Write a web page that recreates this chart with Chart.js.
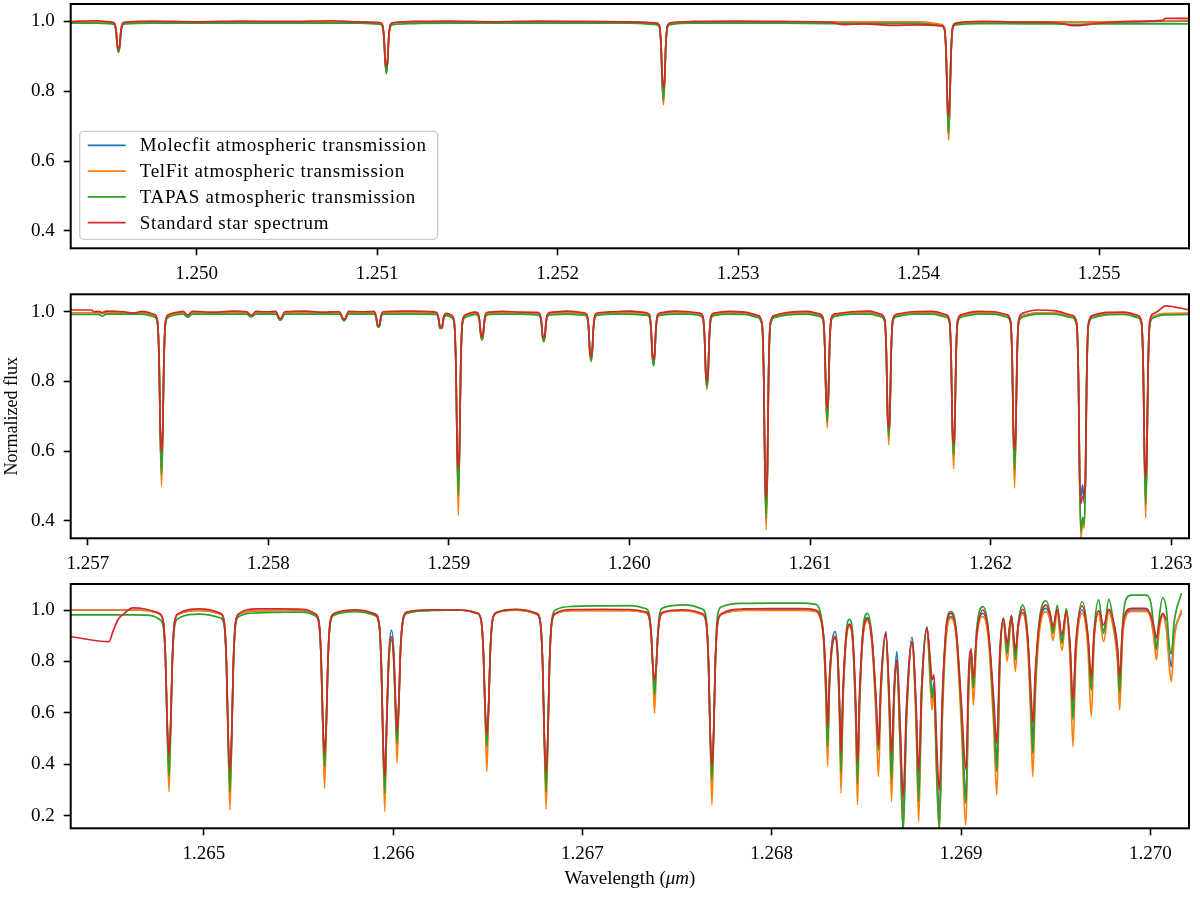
<!DOCTYPE html>
<html>
<head>
<meta charset="utf-8">
<title>Telluric transmission vs standard star</title>
<script src="https://cdn.jsdelivr.net/npm/chart.js@4.4.1/dist/chart.umd.min.js"></script>
<style>
  body { margin: 0; background: #fff; }
  #wrap { position: relative; width: 1200px; height: 897px; }
  canvas { position: absolute; left: 0; }
</style>
</head>
<body>
<div id="wrap">
  <canvas id="panel1" width="1200" height="290" style="top:0px"></canvas>
  <canvas id="panel2" width="1200" height="290" style="top:290px"></canvas>
  <canvas id="panel3" width="1200" height="317" style="top:580px"></canvas>
</div>
<script>
// series names / colours (matplotlib tab10 order)
const seriesNames = ['Molecfit atmospheric transmission', 'TelFit atmospheric transmission',
                     'TAPAS atmospheric transmission', 'Standard star spectrum'];
const seriesColors = ['#1f77b4', '#ff7f0e', '#2ca02c', '#d62728'];

// tick values for each panel
const p1XTicks = [1.250, 1.251, 1.252, 1.253, 1.254, 1.255];
const p2XTicks = [1.257, 1.258, 1.259, 1.260, 1.261, 1.262, 1.263];
const p3XTicks = [1.265, 1.266, 1.267, 1.268, 1.269, 1.270];
const p12YTicks = [0.4, 0.6, 0.8, 1.0];
const p3YTicks = [0.2, 0.4, 0.6, 0.8, 1.0];

// ---------- panel 1 : 1.2493 - 1.2555 um ----------
const p1Wave = [
  1.24930, 1.24945,
  1.249527, 1.249544, 1.249554, 1.249560, 1.249567, 1.249574, 1.249580, 1.249590, 1.249607,
  1.24975, 1.25000, 1.25025, 1.25050, 1.25075, 1.25090,
  1.251011, 1.251028, 1.251038, 1.251044, 1.251051, 1.251058, 1.251064, 1.251074, 1.251091,
  1.25120, 1.25140, 1.25165, 1.25190, 1.25215, 1.25240,
  1.252546, 1.252563, 1.252573, 1.252579, 1.252586, 1.252593, 1.252599, 1.252609, 1.252626,
  1.25275, 1.25300, 1.25325, 1.25350, 1.25359, 1.25370, 1.25385, 1.25400,
  1.254126, 1.254143, 1.254153, 1.254159, 1.254166, 1.254173, 1.254179, 1.254189, 1.254206,
  1.25435, 1.25460, 1.25475, 1.25487, 1.25500, 1.25520, 1.25535, 1.25537, 1.25550
];
const p1Molecfit = [
  0.998, 0.998,
  0.996, 0.993, 0.970, 0.932, 0.915, 0.932, 0.970, 0.993, 0.996,
  0.998, 0.998, 0.998, 0.998, 0.998, 0.998,
  0.995, 0.990, 0.952, 0.890, 0.855, 0.890, 0.952, 0.990, 0.995,
  0.998, 0.998, 0.998, 0.998, 0.998, 0.998,
  0.994, 0.987, 0.929, 0.838, 0.770, 0.838, 0.929, 0.987, 0.994,
  0.998, 0.998, 0.998, 0.998, 0.998, 0.998, 0.998, 0.998,
  0.990, 0.980, 0.899, 0.775, 0.672, 0.775, 0.899, 0.984, 0.994,
  0.998, 0.998, 0.998, 0.998, 0.998, 0.999, 1.000, 1.000, 1.001
];
const p1TelFit = [
  0.999, 0.999,
  0.997, 0.994, 0.971, 0.933, 0.914, 0.933, 0.971, 0.994, 0.997,
  0.999, 0.999, 0.999, 0.999, 0.999, 0.999,
  0.996, 0.991, 0.953, 0.891, 0.851, 0.891, 0.953, 0.991, 0.996,
  0.999, 0.999, 0.999, 0.999, 0.999, 0.999,
  0.995, 0.988, 0.930, 0.839, 0.761, 0.839, 0.930, 0.988, 0.995,
  0.999, 0.999, 0.999, 0.999, 0.999, 0.999, 0.999, 0.999,
  0.991, 0.981, 0.900, 0.776, 0.659, 0.776, 0.900, 0.985, 0.995,
  0.999, 0.999, 0.999, 0.999, 0.999, 1.000, 1.002, 1.002, 1.003
];
const p1Tapas = [
  0.995, 0.995,
  0.993, 0.990, 0.967, 0.929, 0.911, 0.929, 0.967, 0.990, 0.993,
  0.995, 0.995, 0.995, 0.995, 0.995, 0.995,
  0.992, 0.987, 0.949, 0.887, 0.850, 0.887, 0.949, 0.986, 0.991,
  0.994, 0.995, 0.995, 0.995, 0.995, 0.995,
  0.991, 0.984, 0.926, 0.835, 0.776, 0.835, 0.926, 0.984, 0.991,
  0.995, 0.995, 0.995, 0.994, 0.994, 0.994, 0.994, 0.994,
  0.987, 0.977, 0.896, 0.772, 0.682, 0.772, 0.896, 0.981, 0.990,
  0.994, 0.993, 0.993, 0.992, 0.993, 0.993, 0.993, 0.993, 0.993
];
const p1Star = [
  1.000, 1.002,
  0.998, 0.995, 0.972, 0.934, 0.921, 0.934, 0.972, 0.995, 0.998,
  1.001, 0.999, 1.001, 1.000, 1.002, 0.999,
  0.997, 0.992, 0.954, 0.892, 0.871, 0.892, 0.954, 0.992, 0.997,
  1.000, 1.001, 0.999, 1.001, 1.000, 0.999,
  0.996, 0.989, 0.931, 0.840, 0.809, 0.840, 0.931, 0.989, 0.996,
  1.000, 1.001, 1.000, 0.998, 0.991, 0.993, 0.989, 0.990,
  0.988, 0.980, 0.900, 0.780, 0.728, 0.780, 0.900, 0.984, 0.995,
  1.000, 0.998, 0.997, 0.988, 0.995, 1.000, 1.003, 1.009, 1.009
];

// ---------- panel 2 : 1.2569 - 1.2631 um ----------
const p2Wave = [
  1.256905, 1.257020, 1.257035, 1.257055, 1.257073, 1.257080, 1.257087, 1.257105, 1.257200, 1.257250, 1.257300,
  1.257368, 1.257385, 1.257395, 1.257401, 1.257408, 1.257415, 1.257421, 1.257431, 1.257448, 1.257500,
  1.257528, 1.257546, 1.257553, 1.257560, 1.257578, 1.257700, 1.257800,
  1.257880, 1.257898, 1.257905, 1.257912, 1.257930, 1.257990,
  1.258041, 1.258059, 1.258066, 1.258073, 1.258091, 1.258200, 1.258300,
  1.258394, 1.258412, 1.258419, 1.258426, 1.258444, 1.258520,
  1.258585, 1.258597, 1.258603, 1.258610, 1.258617, 1.258623, 1.258635, 1.258750, 1.258850,
  1.258931, 1.258943, 1.258949, 1.258956, 1.258963, 1.258969, 1.258985,
  1.259012, 1.259029, 1.259039, 1.259045, 1.259052, 1.259059, 1.259065, 1.259075, 1.259092, 1.259130,
  1.259143, 1.259160, 1.259170, 1.259176, 1.259183, 1.259190, 1.259196, 1.259206, 1.259223, 1.259300, 1.259400,
  1.259485, 1.259502, 1.259512, 1.259518, 1.259525, 1.259532, 1.259538, 1.259548, 1.259565, 1.259650,
  1.259747, 1.259764, 1.259774, 1.259780, 1.259787, 1.259794, 1.259800, 1.259810, 1.259827, 1.259900, 1.260000,
  1.260093, 1.260110, 1.260120, 1.260126, 1.260133, 1.260140, 1.260146, 1.260156, 1.260173, 1.260250, 1.260330,
  1.260389, 1.260406, 1.260416, 1.260422, 1.260429, 1.260436, 1.260442, 1.260452, 1.260469, 1.260550, 1.260640,
  1.260707, 1.260734, 1.260744, 1.260750, 1.260757, 1.260764, 1.260770, 1.260780, 1.260807, 1.260880, 1.260980,
  1.261050, 1.261072, 1.261082, 1.261088, 1.261095, 1.261102, 1.261108, 1.261118, 1.261140, 1.261230, 1.261330,
  1.261391, 1.261413, 1.261423, 1.261429, 1.261436, 1.261443, 1.261449, 1.261459, 1.261481, 1.261570, 1.261680,
  1.261750, 1.261772, 1.261782, 1.261788, 1.261795, 1.261802, 1.261808, 1.261818, 1.261840, 1.261930, 1.262020,
  1.262088, 1.262110, 1.262120, 1.262126, 1.262133, 1.262140, 1.262146, 1.262156, 1.262178, 1.262260, 1.262350,
  1.262450, 1.262477, 1.262487, 1.262493, 1.262500, 1.262510, 1.262519, 1.262526, 1.262532, 1.262542, 1.262569, 1.262640, 1.262740,
  1.262814, 1.262836, 1.262846, 1.262852, 1.262859, 1.262866, 1.262872, 1.262882, 1.262904, 1.262930, 1.262968, 1.263099
];
const p2Molecfit = [
  0.997, 0.997, 0.997, 0.997, 0.996, 0.995, 0.996, 0.997, 0.997, 0.997, 0.997,
  0.989, 0.973, 0.853, 0.660, 0.540, 0.660, 0.853, 0.973, 0.989, 0.996,
  0.997, 0.990, 0.988, 0.990, 0.997, 0.997, 0.997,
  0.997, 0.990, 0.989, 0.990, 0.997, 0.997,
  0.997, 0.981, 0.978, 0.981, 0.997, 0.997, 0.997,
  0.997, 0.980, 0.976, 0.980, 0.997, 0.997,
  0.997, 0.985, 0.963, 0.957, 0.963, 0.985, 0.997, 0.997, 0.997,
  0.996, 0.979, 0.957, 0.953, 0.957, 0.979, 0.993,
  0.988, 0.970, 0.835, 0.620, 0.490, 0.620, 0.835, 0.970, 0.988, 0.995,
  0.996, 0.993, 0.971, 0.937, 0.922, 0.937, 0.971, 0.993, 0.996, 0.997, 0.997,
  0.995, 0.992, 0.970, 0.933, 0.918, 0.933, 0.970, 0.992, 0.995, 0.997,
  0.994, 0.989, 0.951, 0.889, 0.862, 0.889, 0.951, 0.989, 0.994, 0.997, 0.997,
  0.994, 0.989, 0.947, 0.881, 0.848, 0.881, 0.947, 0.989, 0.994, 0.997, 0.997,
  0.993, 0.985, 0.925, 0.829, 0.780, 0.829, 0.925, 0.985, 0.993, 0.997, 0.996,
  0.988, 0.965, 0.804, 0.548, 0.420, 0.548, 0.804, 0.965, 0.988, 0.995, 0.997,
  0.991, 0.980, 0.897, 0.764, 0.690, 0.764, 0.897, 0.980, 0.991, 0.997, 0.997,
  0.990, 0.977, 0.877, 0.716, 0.650, 0.716, 0.877, 0.977, 0.990, 0.997, 0.997,
  0.989, 0.974, 0.859, 0.676, 0.580, 0.676, 0.859, 0.974, 0.989, 0.997, 0.997,
  0.989, 0.973, 0.854, 0.664, 0.540, 0.664, 0.854, 0.973, 0.989, 0.997, 0.997,
  0.987, 0.964, 0.797, 0.537, 0.470, 0.503, 0.450, 0.537, 0.797, 0.964, 0.987, 0.995, 0.996,
  0.987, 0.968, 0.826, 0.597, 0.460, 0.597, 0.826, 0.968, 0.987, 0.992, 0.994, 0.995
];
const p2TelFit = [
  0.997, 0.997, 0.997, 0.997, 0.996, 0.995, 0.996, 0.997, 0.997, 0.997, 0.997,
  0.989, 0.973, 0.853, 0.660, 0.499, 0.660, 0.853, 0.973, 0.989, 0.996,
  0.997, 0.990, 0.988, 0.990, 0.997, 0.997, 0.997,
  0.997, 0.990, 0.988, 0.990, 0.997, 0.997,
  0.997, 0.981, 0.978, 0.981, 0.997, 0.997, 0.997,
  0.997, 0.980, 0.976, 0.980, 0.997, 0.997,
  0.997, 0.985, 0.963, 0.957, 0.963, 0.985, 0.997, 0.997, 0.997,
  0.996, 0.979, 0.957, 0.952, 0.957, 0.979, 0.993,
  0.988, 0.970, 0.835, 0.620, 0.416, 0.620, 0.835, 0.970, 0.988, 0.995,
  0.996, 0.993, 0.971, 0.937, 0.919, 0.937, 0.971, 0.993, 0.996, 0.997, 0.997,
  0.995, 0.992, 0.970, 0.933, 0.914, 0.933, 0.970, 0.992, 0.995, 0.997,
  0.994, 0.989, 0.951, 0.889, 0.857, 0.889, 0.951, 0.989, 0.994, 0.997, 0.997,
  0.994, 0.989, 0.947, 0.881, 0.848, 0.881, 0.947, 0.989, 0.994, 0.997, 0.997,
  0.993, 0.985, 0.925, 0.829, 0.776, 0.829, 0.925, 0.985, 0.993, 0.997, 0.996,
  0.988, 0.965, 0.804, 0.548, 0.374, 0.548, 0.804, 0.965, 0.988, 0.995, 0.997,
  0.991, 0.980, 0.897, 0.764, 0.666, 0.764, 0.897, 0.980, 0.991, 0.997, 0.997,
  0.990, 0.977, 0.877, 0.716, 0.618, 0.716, 0.877, 0.977, 0.990, 0.997, 0.997,
  0.989, 0.974, 0.859, 0.676, 0.549, 0.676, 0.859, 0.974, 0.989, 0.997, 0.997,
  0.989, 0.973, 0.854, 0.664, 0.494, 0.664, 0.854, 0.973, 0.989, 0.997, 0.997,
  0.987, 0.964, 0.797, 0.537, 0.350, 0.400, 0.379, 0.537, 0.797, 0.964, 0.987, 0.995, 0.996,
  0.987, 0.968, 0.826, 0.597, 0.408, 0.597, 0.826, 0.968, 0.987, 0.992, 0.995, 0.995
];
const p2Tapas = [
  0.992, 0.992, 0.992, 0.992, 0.989, 0.987, 0.989, 0.993, 0.993, 0.993, 0.993,
  0.985, 0.969, 0.849, 0.656, 0.532, 0.656, 0.849, 0.969, 0.985, 0.992,
  0.993, 0.986, 0.984, 0.986, 0.993, 0.993, 0.993,
  0.993, 0.986, 0.985, 0.986, 0.993, 0.993,
  0.993, 0.978, 0.976, 0.978, 0.993, 0.993, 0.993,
  0.993, 0.977, 0.974, 0.977, 0.993, 0.993,
  0.993, 0.981, 0.960, 0.955, 0.960, 0.981, 0.993, 0.993, 0.993,
  0.992, 0.975, 0.953, 0.952, 0.953, 0.975, 0.989,
  0.984, 0.966, 0.831, 0.616, 0.473, 0.616, 0.831, 0.966, 0.984, 0.991,
  0.992, 0.989, 0.967, 0.933, 0.919, 0.933, 0.967, 0.989, 0.992, 0.993, 0.993,
  0.991, 0.988, 0.966, 0.929, 0.914, 0.929, 0.966, 0.988, 0.991, 0.993,
  0.990, 0.985, 0.947, 0.885, 0.859, 0.885, 0.947, 0.985, 0.990, 0.993, 0.993,
  0.990, 0.985, 0.943, 0.877, 0.844, 0.877, 0.943, 0.985, 0.990, 0.993, 0.993,
  0.989, 0.981, 0.921, 0.825, 0.785, 0.825, 0.921, 0.981, 0.989, 0.993, 0.992,
  0.984, 0.961, 0.800, 0.544, 0.408, 0.544, 0.800, 0.961, 0.984, 0.991, 0.993,
  0.987, 0.976, 0.893, 0.760, 0.685, 0.760, 0.893, 0.976, 0.987, 0.993, 0.993,
  0.986, 0.973, 0.873, 0.712, 0.642, 0.712, 0.873, 0.973, 0.986, 0.993, 0.993,
  0.985, 0.970, 0.855, 0.672, 0.589, 0.672, 0.855, 0.970, 0.985, 0.993, 0.993,
  0.985, 0.969, 0.850, 0.660, 0.546, 0.660, 0.850, 0.969, 0.985, 0.993, 0.993,
  0.983, 0.960, 0.793, 0.533, 0.370, 0.410, 0.389, 0.533, 0.793, 0.960, 0.983, 0.991, 0.992,
  0.983, 0.964, 0.822, 0.593, 0.446, 0.593, 0.822, 0.964, 0.983, 0.988, 0.991, 0.992
];
const p2Star = [
  1.005, 1.005, 1.000, 1.001, 0.999, 0.997, 0.999, 1.002, 1.000, 0.996, 1.001,
  0.992, 0.976, 0.856, 0.663, 0.599, 0.663, 0.856, 0.976, 0.992, 0.999,
  1.001, 0.992, 0.990, 0.992, 1.001, 0.999, 1.002,
  1.000, 0.991, 0.990, 0.991, 1.001, 1.000,
  1.001, 0.983, 0.980, 0.983, 1.000, 1.002, 0.999,
  1.000, 0.981, 0.978, 0.981, 1.001, 1.000,
  1.001, 0.986, 0.966, 0.960, 0.966, 0.986, 1.000, 1.002, 1.001,
  0.998, 0.981, 0.960, 0.955, 0.960, 0.981, 0.995,
  0.991, 0.973, 0.838, 0.623, 0.551, 0.623, 0.838, 0.973, 0.991, 0.998,
  0.999, 0.996, 0.974, 0.940, 0.928, 0.940, 0.974, 0.996, 0.999, 1.001, 0.999,
  0.998, 0.995, 0.973, 0.936, 0.924, 0.936, 0.973, 0.995, 0.998, 1.002,
  0.997, 0.992, 0.954, 0.892, 0.871, 0.892, 0.954, 0.992, 0.997, 1.000, 1.002,
  0.997, 0.992, 0.950, 0.884, 0.862, 0.884, 0.950, 0.992, 0.997, 1.002, 1.000,
  0.996, 0.988, 0.928, 0.832, 0.800, 0.832, 0.928, 0.988, 0.996, 1.001, 0.999,
  0.990, 0.968, 0.807, 0.551, 0.465, 0.551, 0.807, 0.968, 0.990, 0.998, 1.001,
  0.994, 0.983, 0.900, 0.767, 0.723, 0.767, 0.900, 0.983, 0.994, 1.000, 1.002,
  0.993, 0.980, 0.880, 0.719, 0.666, 0.719, 0.880, 0.980, 0.993, 1.000, 1.001,
  0.992, 0.977, 0.862, 0.679, 0.618, 0.679, 0.862, 0.977, 0.992, 1.001, 1.000,
  0.992, 0.976, 0.857, 0.667, 0.604, 0.667, 0.857, 0.978, 0.996, 1.005, 1.003,
  0.990, 0.967, 0.800, 0.540, 0.450, 0.470, 0.475, 0.540, 0.800, 0.967, 0.990, 0.998, 0.999,
  0.990, 0.971, 0.829, 0.600, 0.524, 0.600, 0.829, 0.975, 0.995, 1.003, 1.017, 1.005
];

// ---------- panel 3 : 1.2643 - 1.2702 um ----------
const p3Wave = [
  1.264298, 1.264499, 1.264520, 1.264546, 1.264581, 1.264625, 1.264696, 1.264740,
  1.264766, 1.264786, 1.264798, 1.264806, 1.264816, 1.264826, 1.264834, 1.264846, 1.264866, 1.264977,
  1.265088, 1.265108, 1.265120, 1.265128, 1.265138, 1.265148, 1.265156, 1.265168, 1.265188, 1.265280, 1.265400, 1.265520,
  1.265588, 1.265608, 1.265620, 1.265628, 1.265638, 1.265648, 1.265656, 1.265668, 1.265688, 1.265800,
  1.265906, 1.265926, 1.265938, 1.265946, 1.265956, 1.265966, 1.265977, 1.265991, 1.266004, 1.266013,
  1.266021, 1.266030, 1.266040, 1.266052, 1.266072, 1.266200, 1.266350,
  1.266445, 1.266465, 1.266477, 1.266485, 1.266495, 1.266505, 1.266513, 1.266525, 1.266545, 1.266650,
  1.266758, 1.266778, 1.266790, 1.266798, 1.266808, 1.266818, 1.266826, 1.266838, 1.266858, 1.266950, 1.267100, 1.267250,
  1.267331, 1.267351, 1.267363, 1.267371, 1.267381, 1.267391, 1.267399, 1.267411, 1.267431, 1.267530,
  1.267634, 1.267654, 1.267666, 1.267674, 1.267684, 1.267694, 1.267702, 1.267714, 1.267734, 1.267850, 1.268000, 1.268150, 1.268230,
  1.268255, 1.268275, 1.268287, 1.268295, 1.268305, 1.268318, 1.268334, 1.268348, 1.268358, 1.268366,
  1.268376, 1.268392, 1.268410, 1.268428, 1.268443, 1.268453, 1.268464, 1.268484, 1.268506, 1.268530,
  1.268550, 1.268564, 1.268576, 1.268603, 1.268620, 1.268633, 1.268647, 1.268661, 1.268678, 1.268694,
  1.268712, 1.268741, 1.268762, 1.268776, 1.268792, 1.268820, 1.268838, 1.268847, 1.268857, 1.268870,
  1.268885, 1.268903, 1.268925, 1.268947, 1.268975, 1.269000, 1.269026, 1.269040, 1.269053, 1.269065,
  1.269082, 1.269115, 1.269145, 1.269172, 1.269189, 1.269205, 1.269224, 1.269243, 1.269266, 1.269287,
  1.269302, 1.269326, 1.269352, 1.269368, 1.269379, 1.269392, 1.269412, 1.269450, 1.269472, 1.269485,
  1.269508, 1.269533, 1.269556, 1.269576, 1.269591, 1.269606, 1.269640, 1.269670, 1.269688, 1.269703,
  1.269727, 1.269753, 1.269780, 1.269811, 1.269826, 1.269838, 1.269852, 1.269873, 1.269900, 1.269975,
  1.270002, 1.270020, 1.270032, 1.270045, 1.270065, 1.270085, 1.270100, 1.270111, 1.270125, 1.270164
];
const p3Molecfit = [
  1.000, 1.000, 1.000, 1.000, 1.000, 1.000, 0.998, 0.992,
  0.984, 0.953, 0.807, 0.576, 0.390, 0.576, 0.807, 0.953, 0.984, 0.998,
  0.985, 0.951, 0.786, 0.528, 0.330, 0.528, 0.786, 0.951, 0.985, 0.997, 0.998, 0.998,
  0.984, 0.953, 0.809, 0.580, 0.420, 0.580, 0.809, 0.953, 0.984, 0.998,
  0.982, 0.946, 0.778, 0.513, 0.320, 0.560, 0.820, 0.922, 0.830, 0.630,
  0.510, 0.640, 0.860, 0.960, 0.990, 0.999, 1.000,
  0.987, 0.960, 0.834, 0.635, 0.490, 0.635, 0.834, 0.960, 0.988, 1.000,
  0.985, 0.950, 0.785, 0.524, 0.330, 0.524, 0.785, 0.950, 0.985, 0.998, 0.998, 0.998,
  0.991, 0.976, 0.906, 0.794, 0.690, 0.794, 0.906, 0.976, 0.991, 0.998,
  0.983, 0.949, 0.791, 0.542, 0.370, 0.542, 0.791, 0.949, 0.983, 0.999, 1.000, 1.000, 0.996,
  0.975, 0.880, 0.680, 0.500, 0.720, 0.870, 0.916, 0.840, 0.620, 0.410,
  0.660, 0.880, 0.945, 0.880, 0.620, 0.370, 0.650, 0.920, 0.970, 0.880,
  0.650, 0.460, 0.700, 0.916, 0.660, 0.400, 0.700, 0.838, 0.550, 0.210,
  0.620, 0.894, 0.620, 0.280, 0.700, 0.935, 0.760, 0.660, 0.720, 0.450,
  0.200, 0.680, 0.930, 0.974, 0.900, 0.620, 0.280, 0.720, 0.850, 0.700,
  0.900, 0.987, 0.900, 0.620, 0.420, 0.820, 0.968, 0.850, 0.977, 0.820,
  0.940, 0.990, 0.880, 0.650, 0.500, 0.720, 0.930, 1.006, 0.970, 0.920,
  1.000, 0.880, 0.997, 0.840, 0.600, 0.850, 1.000, 0.880, 0.700, 0.900,
  0.997, 0.920, 1.000, 0.930, 0.840, 0.680, 0.900, 0.985, 1.000, 1.000,
  0.970, 0.900, 0.851, 0.930, 0.985, 0.930, 0.820, 0.780, 0.900, 0.990
];
const p3TelFit = [
  1.000, 1.000, 1.000, 1.000, 1.000, 1.000, 0.998, 0.992,
  0.984, 0.953, 0.807, 0.576, 0.294, 0.576, 0.807, 0.953, 0.984, 0.998,
  0.985, 0.951, 0.786, 0.528, 0.223, 0.528, 0.786, 0.951, 0.985, 0.997, 0.998, 0.998,
  0.984, 0.953, 0.809, 0.580, 0.307, 0.580, 0.809, 0.953, 0.984, 0.998,
  0.982, 0.946, 0.778, 0.513, 0.217, 0.555, 0.800, 0.890, 0.800, 0.600,
  0.405, 0.630, 0.860, 0.960, 0.990, 0.999, 1.000,
  0.987, 0.960, 0.834, 0.635, 0.372, 0.635, 0.834, 0.960, 0.988, 0.999,
  0.985, 0.950, 0.785, 0.524, 0.226, 0.524, 0.785, 0.950, 0.985, 0.997, 0.997, 0.997,
  0.990, 0.975, 0.905, 0.793, 0.599, 0.793, 0.905, 0.975, 0.990, 0.997,
  0.982, 0.948, 0.790, 0.541, 0.243, 0.541, 0.790, 0.948, 0.982, 0.998, 0.998, 0.998, 0.994,
  0.970, 0.870, 0.630, 0.392, 0.700, 0.850, 0.900, 0.820, 0.580, 0.288,
  0.630, 0.870, 0.935, 0.870, 0.580, 0.243, 0.620, 0.910, 0.960, 0.860,
  0.600, 0.353, 0.660, 0.900, 0.620, 0.256, 0.660, 0.800, 0.480, 0.140,
  0.570, 0.870, 0.570, 0.178, 0.650, 0.925, 0.700, 0.612, 0.690, 0.380,
  0.140, 0.620, 0.920, 0.968, 0.890, 0.570, 0.165, 0.680, 0.800, 0.631,
  0.880, 0.974, 0.880, 0.550, 0.282, 0.780, 0.960, 0.800, 0.970, 0.761,
  0.930, 0.984, 0.860, 0.580, 0.353, 0.660, 0.900, 0.994, 0.950, 0.881,
  0.990, 0.842, 0.985, 0.800, 0.469, 0.800, 0.987, 0.850, 0.586, 0.880,
  0.987, 0.877, 0.990, 0.900, 0.800, 0.612, 0.880, 0.980, 0.995, 0.995,
  0.970, 0.880, 0.806, 0.910, 0.977, 0.920, 0.780, 0.722, 0.880, 1.000
];
const p3Tapas = [
  0.981, 0.981, 0.981, 0.981, 0.981, 0.981, 0.980, 0.975,
  0.963, 0.935, 0.795, 0.566, 0.353, 0.566, 0.795, 0.937, 0.967, 0.984,
  0.969, 0.937, 0.776, 0.518, 0.294, 0.518, 0.776, 0.942, 0.976, 0.989, 0.991, 0.992,
  0.978, 0.947, 0.803, 0.574, 0.392, 0.574, 0.805, 0.949, 0.980, 0.994,
  0.978, 0.942, 0.774, 0.509, 0.288, 0.550, 0.795, 0.883, 0.790, 0.590,
  0.482, 0.625, 0.855, 0.955, 0.987, 0.998, 1.000,
  0.987, 0.960, 0.834, 0.635, 0.469, 0.635, 0.834, 0.962, 0.990, 1.003,
  0.987, 0.952, 0.787, 0.526, 0.294, 0.526, 0.790, 0.962, 1.000, 1.014, 1.016, 1.017,
  1.006, 0.990, 0.915, 0.800, 0.670, 0.800, 0.915, 0.995, 1.010, 1.020,
  1.003, 0.965, 0.800, 0.545, 0.340, 0.545, 0.805, 0.980, 1.012, 1.026, 1.027, 1.027, 1.022,
  0.995, 0.880, 0.660, 0.469, 0.710, 0.850, 0.890, 0.820, 0.600, 0.366,
  0.650, 0.900, 0.964, 0.900, 0.610, 0.333, 0.650, 0.940, 0.987, 0.890,
  0.640, 0.456, 0.680, 0.903, 0.640, 0.340, 0.670, 0.786, 0.480, 0.140,
  0.580, 0.877, 0.600, 0.256, 0.680, 0.929, 0.740, 0.657, 0.700, 0.400,
  0.155, 0.660, 0.960, 0.994, 0.920, 0.620, 0.249, 0.700, 0.819, 0.696,
  0.920, 1.013, 0.920, 0.600, 0.372, 0.800, 0.968, 0.832, 0.977, 0.806,
  0.950, 1.019, 0.900, 0.630, 0.443, 0.700, 0.950, 1.036, 0.980, 0.909,
  1.019, 0.871, 1.006, 0.850, 0.573, 0.850, 1.032, 0.900, 0.689, 0.920,
  1.039, 0.909, 1.041, 0.920, 0.840, 0.680, 0.930, 1.045, 1.058, 1.058,
  1.030, 0.920, 0.845, 0.960, 1.047, 1.000, 0.860, 0.830, 0.950, 1.065
];
const p3Star = [
  0.896, 0.877, 0.916, 0.961, 0.987, 1.008, 1.003, 0.994,
  0.986, 0.955, 0.809, 0.578, 0.437, 0.578, 0.809, 0.955, 0.986, 1.004,
  0.987, 0.953, 0.788, 0.530, 0.372, 0.530, 0.788, 0.953, 0.987, 1.004, 1.004, 1.003,
  0.986, 0.955, 0.811, 0.582, 0.443, 0.582, 0.811, 0.955, 0.986, 1.001,
  0.984, 0.948, 0.780, 0.515, 0.353, 0.560, 0.810, 0.896, 0.810, 0.640,
  0.528, 0.640, 0.865, 0.962, 0.992, 1.001, 1.000,
  0.988, 0.961, 0.835, 0.636, 0.515, 0.636, 0.835, 0.961, 0.989, 1.002,
  0.986, 0.951, 0.786, 0.525, 0.366, 0.525, 0.786, 0.951, 0.987, 1.002, 1.003, 1.002,
  0.993, 0.978, 0.908, 0.796, 0.728, 0.796, 0.908, 0.978, 0.993, 1.001,
  0.985, 0.951, 0.793, 0.544, 0.392, 0.544, 0.793, 0.951, 0.985, 1.004, 1.005, 1.005, 1.000,
  0.978, 0.890, 0.720, 0.547, 0.740, 0.860, 0.896, 0.830, 0.650, 0.443,
  0.680, 0.890, 0.942, 0.890, 0.660, 0.405, 0.680, 0.920, 0.964, 0.880,
  0.670, 0.469, 0.710, 0.909, 0.680, 0.443, 0.700, 0.806, 0.550, 0.275,
  0.620, 0.877, 0.640, 0.370, 0.700, 0.929, 0.800, 0.728, 0.748, 0.500,
  0.300, 0.700, 0.950, 0.987, 0.910, 0.660, 0.379, 0.760, 0.845, 0.735,
  0.900, 1.000, 0.910, 0.660, 0.482, 0.840, 0.968, 0.870, 0.977, 0.845,
  0.940, 1.003, 0.890, 0.700, 0.560, 0.760, 0.940, 1.019, 0.980, 0.935,
  1.003, 0.903, 0.994, 0.860, 0.650, 0.870, 1.016, 0.900, 0.741, 0.910,
  0.997, 0.942, 1.003, 0.935, 0.860, 0.740, 0.920, 0.995, 1.006, 1.006,
  0.980, 0.930, 0.891, 0.940, 0.987, 0.960, null, null, null, null
];

const serif = '"Liberation Serif", "Times New Roman", serif';
Chart.defaults.font.family = serif;
Chart.defaults.font.size = 19;
Chart.defaults.color = '#000';

// black box round the plot area (matplotlib spines)
const frame = {
  id: 'frame',
  afterDatasetsDraw(chart) {
    const {ctx, chartArea: a} = chart;
    ctx.save();
    ctx.strokeStyle = '#000';
    ctx.lineWidth = 2;
    ctx.strokeRect(a.left, a.top, a.right - a.left, a.bottom - a.top);
    ctx.restore();
  }
};

// legend inside the lower-left corner of the first panel
const legendBox = {
  id: 'legendBox',
  afterDatasetsDraw(chart) {
    const {ctx, chartArea: a} = chart;
    const w = 358, h = 108;
    const x0 = a.left + 9, y0 = a.bottom - 9 - h;
    ctx.save();
    ctx.fillStyle = 'rgba(255,255,255,0.85)';
    ctx.strokeStyle = '#cccccc';
    ctx.lineWidth = 1.3;
    ctx.beginPath();
    ctx.roundRect(x0, y0, w, h, 4);
    ctx.fill();
    ctx.stroke();
    chart.data.datasets.forEach((ds, i) => {
      const y = y0 + 14 + i * 25.8;
      ctx.strokeStyle = ds.borderColor;
      ctx.lineWidth = 1.8;
      ctx.beginPath();
      ctx.moveTo(x0 + 8, y);
      ctx.lineTo(x0 + 46, y);
      ctx.stroke();
      ctx.fillStyle = '#000';
      ctx.font = '19px ' + serif;
      ctx.letterSpacing = '0.7px';     // computer modern runs a bit wider than times
      ctx.textBaseline = 'middle';
      ctx.fillText(ds.label, x0 + 60, y + 1);
    });
    ctx.restore();
  }
};

// shared y label, centred on the middle panel
const yTitle = {
  id: 'yTitle',
  afterDraw(chart) {
    const {ctx, chartArea: a} = chart;
    ctx.save();
    ctx.translate(12, (a.top + a.bottom) / 2);
    ctx.rotate(-Math.PI / 2);
    ctx.font = '18px ' + serif;
    ctx.fillStyle = '#000';
    ctx.textAlign = 'center';
    ctx.textBaseline = 'middle';
    ctx.fillText('Normalized flux', 0, 0);
    ctx.restore();
  }
};

// x label with italic mu m, under the last panel
const xTitle = {
  id: 'xTitle',
  afterDraw(chart) {
    const {ctx, chartArea: a} = chart;
    const parts = [['Wavelength (', ''], ['\u03bcm', 'italic '], [')', '']];
    ctx.save();
    ctx.fillStyle = '#000';
    ctx.textBaseline = 'alphabetic';
    let total = 0;
    parts.forEach(p => { ctx.font = p[1] + '19px ' + serif; total += ctx.measureText(p[0]).width; });
    let x = (a.left + a.right) / 2 - total / 2;
    parts.forEach(p => {
      ctx.font = p[1] + '19px ' + serif;
      ctx.fillText(p[0], x, a.bottom + 56);
      x += ctx.measureText(p[0]).width;
    });
    ctx.restore();
  }
};

function makeDatasets(wave, series) {
  return series.map((vals, k) => ({
    label: seriesNames[k],
    data: wave.map((w, i) => ({x: w, y: vals[i]})),
    borderColor: seriesColors[k],
    backgroundColor: seriesColors[k],
    borderWidth: 1.7,
    pointRadius: 0,
    fill: false,
    order: series.length - k,        // star spectrum drawn last, on top
    cubicInterpolationMode: 'monotone',
    spanGaps: false
  }));
}

function createPanel(id, wave, series, xRange, yRange, xTicks, yTicks, padTop, xHeight, extra) {
  const tickGrid = {drawOnChartArea: false, drawTicks: true, tickLength: 7, tickWidth: 1.6, tickColor: '#000'};
  return new Chart(document.getElementById(id), {
    type: 'line',
    data: {datasets: makeDatasets(wave, series)},
    options: {
      responsive: false,
      animation: false,
      events: [],
      layout: {padding: {top: padTop, right: 11, bottom: 0, left: 0}},
      plugins: {legend: {display: false}, tooltip: {enabled: false}},
      scales: {
        x: {
          type: 'linear',
          min: xRange[0],
          max: xRange[1],
          afterBuildTicks: s => { s.ticks = xTicks.map(v => ({value: v})); },
          afterFit: s => { s.height = xHeight; s.paddingLeft = 0; s.paddingRight = 0; },
          ticks: {callback: v => v.toFixed(3), padding: 7, maxRotation: 0, autoSkip: false},
          grid: tickGrid,
          border: {display: false}
        },
        y: {
          type: 'linear',
          min: yRange[0],
          max: yRange[1],
          afterBuildTicks: s => { s.ticks = yTicks.map(v => ({value: v})); },
          afterFit: s => { s.width = 70.7; s.paddingTop = 0; s.paddingBottom = 0; },
          ticks: {callback: v => v.toFixed(1), padding: 9},
          grid: tickGrid,
          border: {display: false}
        }
      }
    },
    plugins: [frame].concat(extra)
  });
}

createPanel('panel1', p1Wave, [p1Molecfit, p1TelFit, p1Tapas, p1Star],
  [1.249302, 1.255498], [0.350, 1.050], p1XTicks, p12YTicks, 4, 41.7, [legendBox]);
createPanel('panel2', p2Wave, [p2Molecfit, p2TelFit, p2Tapas, p2Star],
  [1.256905, 1.263099], [0.350, 1.050], p2XTicks, p12YTicks, 4.3, 41.7, [yTitle]);
createPanel('panel3', p3Wave, [p3Molecfit, p3TelFit, p3Tapas, p3Star],
  [1.264297, 1.270204], [0.152, 1.101], p3XTicks, p3YTicks, 4, 68.7, [xTitle]);
</script>
</body>
</html>
